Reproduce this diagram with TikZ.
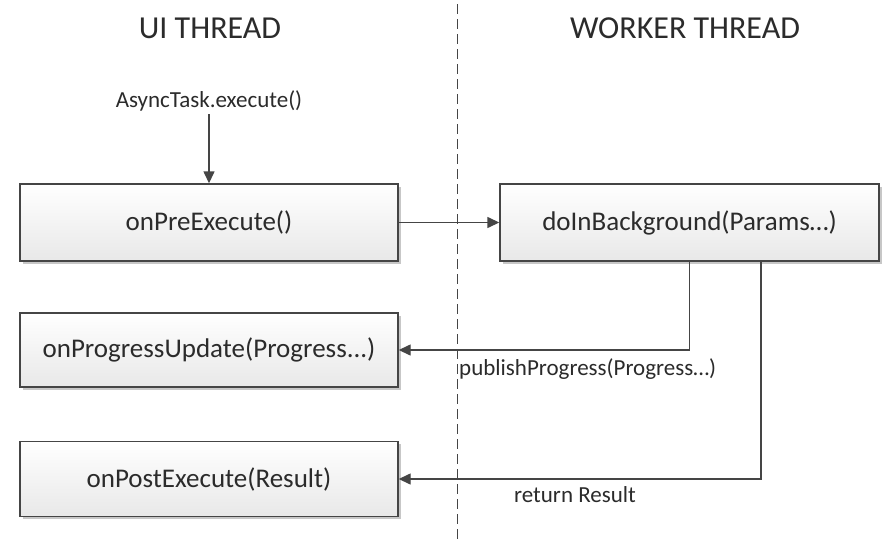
\documentclass[tikz,border=0pt]{standalone}
\usepackage{fontspec}
\setmainfont{Carlito}
\usetikzlibrary{arrows.meta,shadows}
\definecolor{ink}{HTML}{2B2B2B}
\definecolor{edge}{HTML}{454545}
\tikzset{
  stage/.style={draw=edge, line width=1.4pt, top color=white, bottom color=black!9,
    minimum width=378pt, inner sep=0pt, text=ink, font=\fontsize{27}{30}\selectfont,
    drop shadow={shadow xshift=2.5pt, shadow yshift=-2.5pt, fill=black, opacity=0.22}},
  flow/.style={draw=edge, line width=1.4pt, -{Triangle[length=12pt,width=11pt]}},
  lbl/.style={text=ink, inner sep=0pt, font=\fontsize{23}{26}\selectfont},
  head/.style={text=ink, inner sep=0pt, font=\fontsize{32}{36}\selectfont},
  lane/.style={draw=edge, line width=1.3pt, dash pattern=on 10pt off 5pt}
}
\begin{document}
\begin{tikzpicture}[x=1pt,y=-1pt]
\useasboundingbox[fill=white] (0,0) rectangle (883,546);

% thread boundary
\coordinate (laneTop) at (457.5,4);
\coordinate (laneBot) at (457.5,540);
\draw[lane] (laneTop) -- (laneBot);

% column headings
\node[head] (uiHead) at (210,28) {UI THREAD};
\node[head] (wkHead) at (685,28) {WORKER THREAD};

% callback boxes
\node[stage, minimum height=77pt] (pre)  at (209,222.5) {onPreExecute()};
\node[stage, minimum height=77pt, minimum width=379pt] (bg) at (689.5,222.5) {doInBackground(Params…)};
\node[stage, minimum height=74pt] (prog) at (209,350) {onProgressUpdate(Progress...)};
\node[stage, minimum height=75pt] (post) at (209,479) {onPostExecute(Result)};

% entry call
\node[lbl, inner sep=3pt] (exec) at (209,101) {AsyncTask.execute()};
\draw[flow] (exec.south) -- (pre.north);

% transitions between threads
\draw[flow] (pre.east) -- (bg.west);
\coordinate (retTap) at ([xshift=71.5pt]bg.south);
\draw[flow] (bg.south) |- (prog.east);
\draw[flow] (retTap) |- (post.east);

% transition labels
\node[lbl, anchor=west] (pubLbl) at (459,369) {publishProgress(Progress…)};
\node[lbl] (retLbl) at (575,495) {return Result};
\end{tikzpicture}
\end{document}
